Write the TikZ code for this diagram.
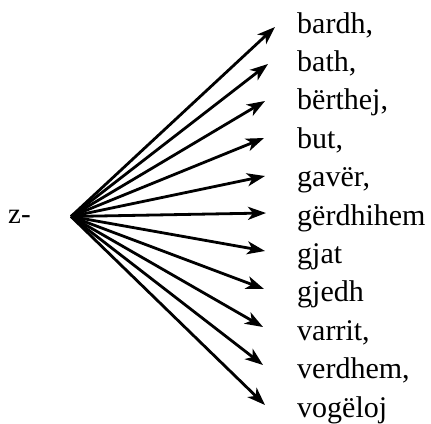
\documentclass[tikz,border=0pt]{standalone}
\usepackage{fontspec}
\setmainfont{Liberation Serif}
\usetikzlibrary{arrows.meta}
\begin{document}
\begin{tikzpicture}[x=1pt,y=-1pt,
  arr/.style={line width=2.8pt, -{Stealth[length=18pt,width=13pt,inset=5pt]}},
  lab/.style={anchor=base west, inner sep=0pt, font=\fontsize{30}{36}\selectfont}]
\useasboundingbox (0,0) rectangle (431,423);
\coordinate (o) at (71,216.5);
\node[lab, font=\fontsize{29}{34}\selectfont] (z) at (8,223) {z-};
\foreach \i/\tx/\ty/\bl/\txt in {
  1/275/27/33/{bardh,},
  2/268/64/71.4/{bath,},
  3/265/101/109.8/{bërthej,},
  4/264/138/148.2/{but,},
  5/265/176/186.6/{gavër,},
  6/266/213/225/{gërdhihem},
  7/265/251/263.4/{gjat},
  8/264/289/301.8/{gjedh},
  9/263/327/340.2/{varrit,},
  10/263/365/378.6/{verdhem,},
  11/265/405/417/{vogëloj}}{
  \coordinate (t\i) at (\tx,\ty);
  \node[lab] (l\i) at (297,\bl) {\txt};
  \draw[arr] (o) -- (t\i);
}
\end{tikzpicture}
\end{document}
